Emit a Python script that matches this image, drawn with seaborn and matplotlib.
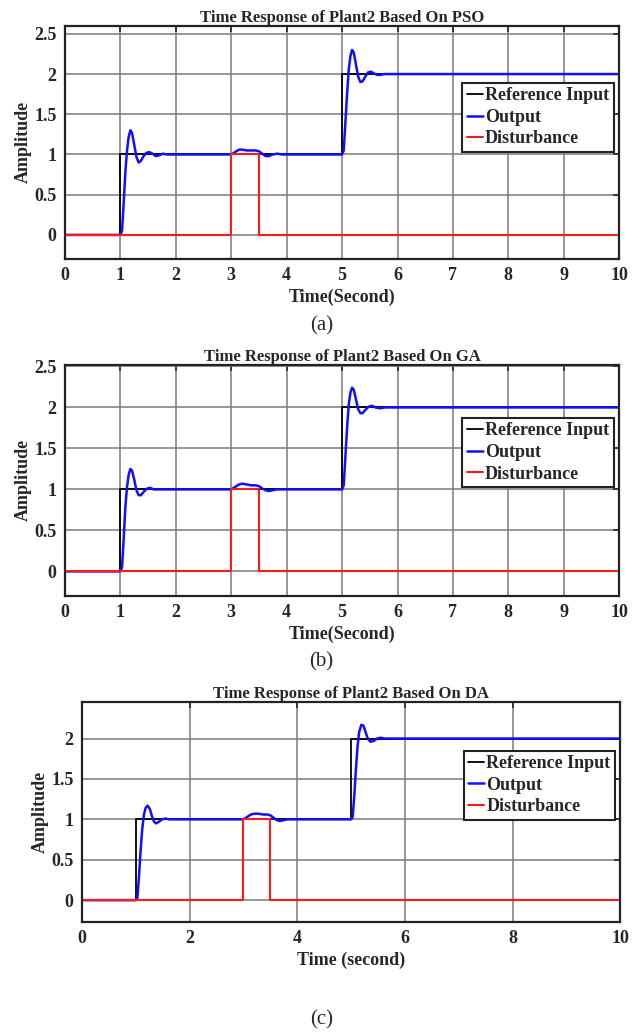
import numpy as np
import pandas as pd
import seaborn as sns
import matplotlib.pyplot as plt

# reference step and disturbance pulse (same for all three panels)
ref_t = [0, 1, 1, 5, 5, 10]
ref_y = [0, 0, 1, 1, 2, 2]
dist_t = [0, 3, 3, 3.5, 3.5, 10]
dist_y = [0, 0, 1, 1, 0, 0]

# output of the plant
pso_t = [0, 1.0, 1.03, 1.06, 1.09, 1.12, 1.15, 1.18, 1.21, 1.25, 1.29, 1.33, 1.37,
         1.42, 1.47, 1.52, 1.58, 1.64, 1.70, 1.77, 1.84, 1.92,
         3.0, 3.07, 3.14, 3.20, 3.28, 3.36, 3.44, 3.50, 3.56, 3.62, 3.68, 3.75, 3.83, 3.92,
         5.0, 5.03, 5.06, 5.09, 5.12, 5.15, 5.18, 5.21, 5.25, 5.29, 5.33, 5.37,
         5.42, 5.47, 5.52, 5.57, 5.63, 5.69, 5.76, 10]
pso_y = [0, 0, 0.05, 0.40, 0.78, 1.05, 1.22, 1.30, 1.27, 1.12, 0.97, 0.90, 0.92,
         0.98, 1.02, 1.03, 1.01, 0.98, 0.99, 1.01, 1.00, 1.00,
         1.00, 1.03, 1.06, 1.06, 1.05, 1.05, 1.05, 1.04, 1.01, 0.98, 0.98, 1.00, 1.01, 1.00,
         1.00, 1.05, 1.40, 1.75, 2.05, 2.22, 2.30, 2.27, 2.12, 1.97, 1.90, 1.91,
         1.97, 2.02, 2.03, 2.01, 1.99, 1.99, 2.00, 2.00]

ga_t = [0, 1.0, 1.03, 1.06, 1.09, 1.12, 1.15, 1.18, 1.21, 1.25, 1.29, 1.33, 1.37,
        1.42, 1.48, 1.54, 1.60, 1.66,
        3.0, 3.07, 3.14, 3.20, 3.28, 3.36, 3.44, 3.50, 3.56, 3.62, 3.68, 3.75, 3.82,
        5.0, 5.03, 5.06, 5.09, 5.12, 5.15, 5.18, 5.21, 5.25, 5.29, 5.33, 5.37,
        5.42, 5.48, 5.54, 5.60, 5.68, 5.78, 5.90, 10]
ga_y = [0, 0, 0.05, 0.40, 0.78, 1.03, 1.18, 1.25, 1.23, 1.12, 0.99, 0.93, 0.93,
        0.97, 1.01, 1.02, 1.00, 1.00,
        1.00, 1.03, 1.06, 1.07, 1.06, 1.05, 1.05, 1.04, 1.01, 0.99, 0.98, 0.99, 1.00,
        1.00, 1.05, 1.40, 1.75, 2.03, 2.18, 2.24, 2.22, 2.10, 1.98, 1.93, 1.93,
        1.97, 2.01, 2.02, 2.00, 1.99, 2.00, 2.00, 2.00]

da_t = [0, 1.0, 1.03, 1.06, 1.09, 1.12, 1.15, 1.18, 1.22, 1.26, 1.30, 1.34, 1.38,
        1.43, 1.49, 1.55, 1.62, 1.70,
        3.0, 3.07, 3.14, 3.20, 3.28, 3.36, 3.44, 3.50, 3.56, 3.62, 3.68, 3.75, 3.82,
        5.0, 5.03, 5.06, 5.09, 5.12, 5.15, 5.19, 5.23, 5.27, 5.31, 5.36, 5.42,
        5.48, 5.55, 5.62, 5.70, 10]
da_y = [0, 0, 0.03, 0.30, 0.62, 0.88, 1.05, 1.14, 1.17, 1.13, 1.04, 0.97, 0.95,
        0.97, 1.00, 1.01, 1.00, 1.00,
        1.00, 1.03, 1.06, 1.07, 1.07, 1.06, 1.06, 1.05, 1.02, 0.99, 0.98, 0.99, 1.00,
        1.00, 1.03, 1.30, 1.62, 1.90, 2.08, 2.17, 2.16, 2.08, 2.00, 1.96, 1.97,
        2.00, 2.01, 2.00, 2.00, 2.00]

panels = [
    ("Time Response of Plant2 Based On PSO", pso_t, pso_y, "Time(Second)", "(a)"),
    ("Time Response of Plant2 Based On GA", ga_t, ga_y, "Time(Second)", "(b)"),
    ("Time Response of Plant2 Based On DA", da_t, da_y, "Time (second)", "(c)"),
]

sns.set_style("white")
plt.rcParams['font.family'] = ['Liberation Serif', 'DejaVu Serif']

fig = plt.figure(figsize=(6.43, 10.32), dpi=100)
rects = [[0.101, 0.749, 0.862, 0.226],
         [0.101, 0.4225, 0.862, 0.224],
         [0.1275, 0.1066, 0.837, 0.213]]
ylims = [(-0.3, 2.6), (-0.3, 2.52), (-0.27, 2.45)]
xticks = [np.arange(0, 11, 1), np.arange(0, 11, 1), np.arange(0, 11, 2)]
yticks = [[0, 0.5, 1, 1.5, 2, 2.5], [0, 0.5, 1, 1.5, 2, 2.5], [0, 0.5, 1, 1.5, 2]]
leg_y = [0.755, 0.77, 0.78]
cap_y = [0.684, 0.359, 0.012]

for i, (title, t_out, y_out, xlab, cap) in enumerate(panels):
    ax = fig.add_axes(rects[i])
    sns.lineplot(x=ref_t, y=ref_y, ax=ax, color='black', lw=1.3,
                 label='Reference Input', sort=False, estimator=None)
    sns.lineplot(x=t_out, y=y_out, ax=ax, color='#1010ff', lw=1.8,
                 label='Output', sort=False, estimator=None)
    sns.lineplot(x=dist_t, y=dist_y, ax=ax, color='#ff1a1a', lw=1.5,
                 label='Disturbance', sort=False, estimator=None)
    ax.set_xlim(0, 10)
    ax.set_ylim(*ylims[i])
    ax.set_xticks(xticks[i])
    ax.set_yticks(yticks[i])
    ax.set_xticklabels([f"{v:g}" for v in xticks[i]], fontsize=13, fontweight='bold')
    ax.set_yticklabels([f"{v:g}" for v in yticks[i]], fontsize=13, fontweight='bold')
    ax.grid(True, color='#7a7a7a', lw=1.1)
    ax.set_axisbelow(True)
    ax.tick_params(direction='in', top=True, right=True, length=4, width=1.2, pad=6)
    for s in ax.spines.values():
        s.set_linewidth(1.6)
        s.set_color('#222222')
    ax.set_title(title, fontsize=12, fontweight='bold', pad=3)
    ax.set_xlabel(xlab, fontsize=13, fontweight='bold', labelpad=3)
    ax.set_ylabel("Amplitude", fontsize=13, fontweight='bold', labelpad=2)
    leg = ax.legend(loc='upper right', bbox_to_anchor=(0.99, leg_y[i]),
                    prop={'weight': 'bold', 'size': 13},
                    handlelength=0.9, handletextpad=0.1, labelspacing=0.25,
                    borderpad=0.25, borderaxespad=0, fancybox=False, framealpha=1)
    leg.get_frame().set_edgecolor('#222222')
    leg.get_frame().set_linewidth(1.5)
    fig.text(0.5, cap_y[i], cap, ha='center', va='center', fontsize=15)

fig.savefig('out.png', dpi=100)
